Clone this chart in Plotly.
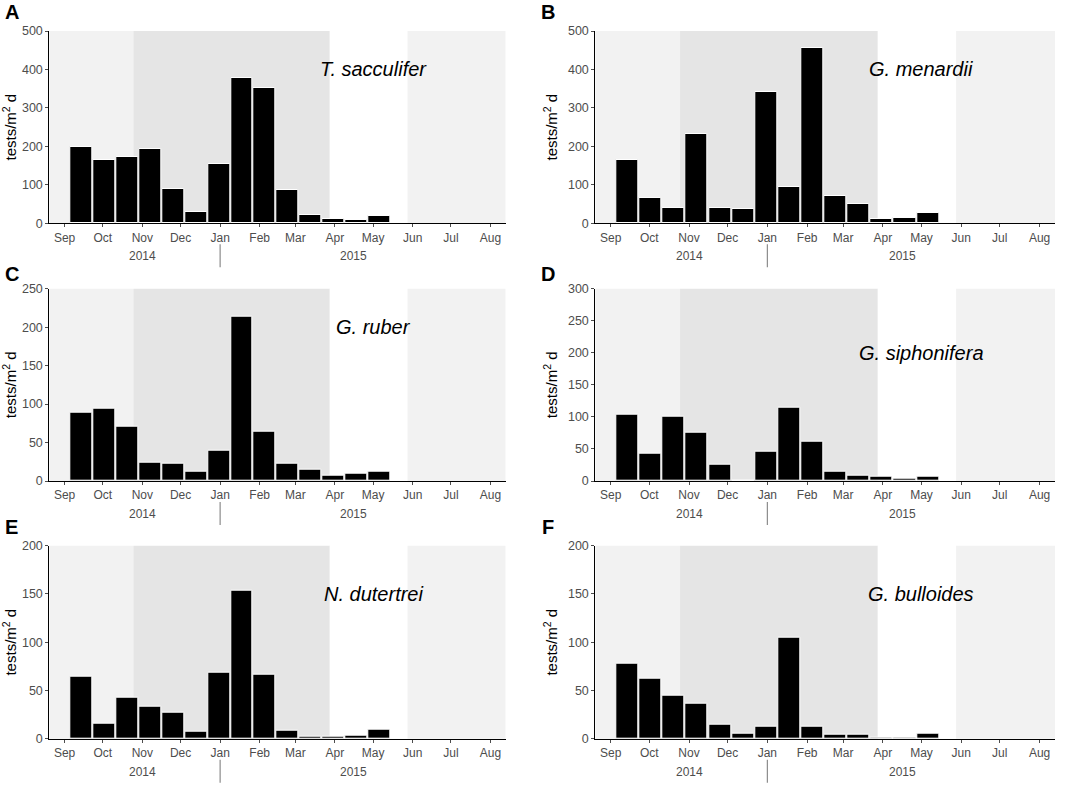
import plotly.graph_objects as go
from plotly.subplots import make_subplots

# sampling dates (bar centres, 18-day cups)
sample_dates = ["2014-09-14", "2014-10-02", "2014-10-20", "2014-11-07", "2014-11-25",
                "2014-12-13", "2014-12-31", "2015-01-18", "2015-02-05", "2015-02-23",
                "2015-03-13", "2015-03-31", "2015-04-18", "2015-05-06"]

# fluxes, tests/m2 d
t_sacculifer = [198, 165, 173, 192, 88, 29, 153, 378, 351, 86, 22, 10, 8, 20]
g_menardii = [164, 65, 41, 231, 41, 38, 341, 95, 455, 70, 50, 11, 13, 26]
g_ruber = [89, 94, 71, 24, 22, 12, 40, 214, 64, 22, 15, 7, 10, 12]
g_siphonifera = [103, 43, 100, 76, 26, 0, 46, 114, 62, 15, 9, 7, 4, 6]
n_dutertrei = [64, 16, 42, 33, 27, 7, 68, 153, 66, 8, 2, 2, 3, 9]
g_bulloides = [78, 62, 45, 36, 14, 5, 12, 105, 12, 4, 4, 0.7, 1.4, 5.5]

species = ["T. sacculifer", "G. menardii", "G. ruber", "G. siphonifera", "N. dutertrei", "G. bulloides"]
series = [t_sacculifer, g_menardii, g_ruber, g_siphonifera, n_dutertrei, g_bulloides]
panel_letters = ["A", "B", "C", "D", "E", "F"]
y_max = [500, 500, 250, 300, 200, 200]
y_step = [100, 100, 50, 50, 50, 50]
label_y = [400, 400, 200, 200, 150, 150]

# season shading boundaries
x_range = ["2014-08-20", "2015-08-13"]
season_edges = ["2014-10-25", "2015-03-28", "2015-05-28"]
year_labels = ["2014", "2015"]
year_label_x = ["2014-11-01", "2015-04-16"]
year_break = "2015-01-01"

W, H = 1072, 785
L, T = 30, 20
PW, PH = W - L, H - T
col_px = [(49.3, 505.7), (595.3, 1055)]
row_px = [(31, 223.3), (288.7, 481), (545.7, 738.7)]
letter_y_px = [12, 274.5, 527]
letter_x_px = [11.5, 548]


def px_x(v):
    return (v - L) / PW


def px_y(v):
    return 1 - (v - T) / PH


day_ms = 86400000
font = "Liberation Sans, Arial, sans-serif"

fig = make_subplots(rows=3, cols=2)

for i in range(6):
    r, c = i // 2, i % 2
    n = i + 1
    xa = "x" if n == 1 else "x%d" % n
    ya = "y" if n == 1 else "y%d" % n

    fig.add_trace(go.Bar(x=sample_dates, y=series[i], width=[17.2 * day_ms] * len(sample_dates),
                         marker=dict(color="black", line=dict(color="white", width=1)),
                         showlegend=False, hoverinfo="x+y"),
                  row=r + 1, col=c + 1)

    x0, x1 = col_px[c]
    top, bottom = row_px[r]
    fig.layout[xa.replace("x", "xaxis")].update(
        domain=[px_x(x0), px_x(x1)], type="date", range=x_range, automargin=False,
        tick0="2014-09-01", dtick="M1", tickformat="%b",
        showline=True, linecolor="black", linewidth=1,
        ticks="outside", ticklen=3, tickcolor="#4d4d4d",
        showgrid=False, zeroline=False,
        tickfont=dict(family=font, size=12, color="#4d4d4d"))
    fig.layout[ya.replace("y", "yaxis")].update(
        domain=[px_y(bottom), px_y(top)], range=[0, y_max[i]], automargin=False,
        tick0=0, dtick=y_step[i],
        showline=True, linecolor="black", linewidth=1,
        ticks="outside", ticklen=3, tickcolor="#4d4d4d",
        showgrid=False, zeroline=False,
        tickfont=dict(family=font, size=12.5, color="#4d4d4d"),
        title=dict(text="tests/m<sup>2</sup> d", standoff=6,
                   font=dict(family=font, size=15, color="black")))

    # season shading
    edges = [x_range[0]] + season_edges + [x_range[1]]
    fills = ["#f2f2f2", "#e5e5e5", "white", "#f2f2f2"]
    for k in range(4):
        fig.add_shape(type="rect", xref=xa, yref=ya + " domain", x0=edges[k], x1=edges[k + 1],
                      y0=0, y1=1, fillcolor=fills[k], line_width=0, layer="below")

    # year separator and labels under the month axis
    fig.add_shape(type="line", xref=xa, yref="paper", x0=year_break, x1=year_break,
                  y0=px_y(bottom + 21), y1=px_y(bottom + 44),
                  line=dict(color="#8c8c8c", width=1.2))
    for yl, yx in zip(year_labels, year_label_x):
        fig.add_annotation(xref=xa, yref="paper", x=yx, y=px_y(bottom + 33),
                           text=yl, showarrow=False, xanchor="center", yanchor="middle",
                           font=dict(family=font, size=12, color="#4d4d4d"))

    # species name
    fig.add_annotation(xref=xa, yref=ya, x="2015-05-01", y=label_y[i],
                       text="<i>" + species[i] + "</i>", showarrow=False,
                       xanchor="center", yanchor="middle",
                       font=dict(family=font, size=20, color="black"))

    # panel letter
    fig.add_annotation(xref="paper", yref="paper", x=px_x(letter_x_px[c]), y=px_y(letter_y_px[r]),
                       text="<b>" + panel_letters[i] + "</b>", showarrow=False,
                       xanchor="center", yanchor="middle",
                       font=dict(family=font, size=20, color="black"))

fig.update_layout(width=W, height=H, margin=dict(l=L, r=0, t=T, b=0),
                  paper_bgcolor="white", plot_bgcolor="white", bargap=0,
                  font=dict(family=font))

# drop the default page margin so the figure sits at the window corner
fig.write_html("out.html", config={"displayModeBar": False},
               post_script="document.body.style.margin='0';")
